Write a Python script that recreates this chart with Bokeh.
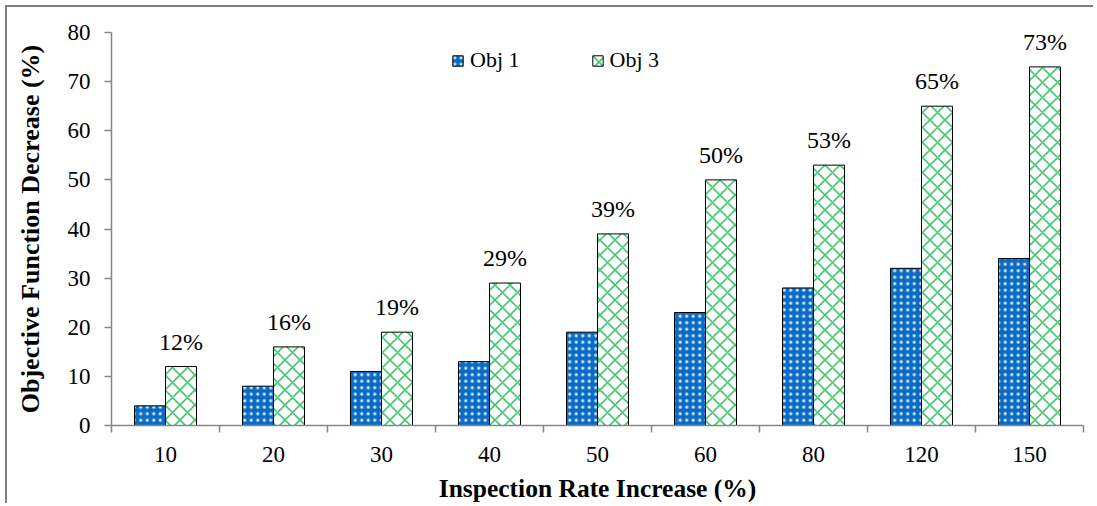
import numpy as np
from bokeh.plotting import figure
from bokeh.models import Range1d, FixedTicker, ColumnDataSource
from bokeh.core.properties import value
from bokeh.embed import file_html
from bokeh.resources import INLINE

categories = ["10", "20", "30", "40", "50", "60", "80", "120", "150"]
obj1 = [4, 8, 11, 13, 19, 23, 28, 32, 34]
obj3 = [12, 16, 19, 29, 39, 50, 53, 65, 73]
pct_labels = [f"{v}%" for v in obj3]
y_ticks = list(range(0, 81, 10))

FONT = "Liberation Serif"
AXIS_COLOR = "#868686"

idx = np.arange(len(categories))
centers = idx + 0.5
bw = 0.287

src = ColumnDataSource(dict(
    x1=centers - bw / 2, x3=centers + bw / 2,
    obj1=obj1, obj3=obj3, lab=pct_labels,
))

p = figure(width=1088, height=498, output_backend="svg", toolbar_location=None,
           x_range=Range1d(0, len(categories)), y_range=Range1d(0, 80),
           min_border_left=104, min_border_right=12, min_border_top=25, min_border_bottom=80,
           styles={"border-top": "2px solid #7f7f7f", "border-left": "2px solid #7f7f7f",
                   "margin-left": "5px", "margin-top": "5px"})
p.outline_line_color = None
p.xgrid.visible = False
p.ygrid.visible = False
p.background_fill_color = "white"
p.border_fill_color = "white"

p.vbar(x="x1", top="obj1", width=bw, source=src, fill_color="#0A6BC4",
       line_color="black", line_width=1,
       hatch_pattern="dot", hatch_color="#D4E8FA", hatch_scale=6.5, hatch_weight=1.6,
       legend_label="Obj 1")
p.vbar(x="x3", top="obj3", width=bw, source=src, fill_color="white",
       line_color="black", line_width=1,
       hatch_pattern="diagonal_cross", hatch_color="#45C873", hatch_scale=15, hatch_weight=1.6,
       legend_label="Obj 3")

p.text(x="x3", y="obj3", text="lab", source=src, text_align="center",
       text_baseline="bottom", y_offset=-12, text_font=value(FONT),
       text_font_size="24px", text_color="black")

# y axis
ya = p.yaxis[0]
ya.ticker = FixedTicker(ticks=y_ticks)
ya.major_tick_in = 0
ya.major_tick_out = 7
ya.minor_tick_out = 0
ya.minor_tick_in = 0
ya.axis_line_color = AXIS_COLOR
ya.axis_line_width = 1.5
ya.major_tick_line_color = AXIS_COLOR
ya.major_tick_line_width = 1.5
ya.major_label_text_font = FONT
ya.major_label_text_font_size = "23px"
ya.major_label_text_color = "black"
ya.major_label_standoff = 14
ya.axis_label = "Objective Function Decrease (%)"
ya.axis_label_text_font = FONT
ya.axis_label_text_font_style = "bold"
ya.axis_label_text_font_size = "26px"
ya.axis_label_text_color = "black"
ya.axis_label_standoff = 20

# x axis
xa = p.xaxis[0]
xa.ticker = FixedTicker(ticks=list(centers), minor_ticks=list(map(float, np.arange(len(categories) + 1))))
xa.major_label_overrides = {float(c): lab for c, lab in zip(centers, categories)}
xa.major_tick_in = 0
xa.major_tick_out = 0
xa.minor_tick_in = 0
xa.minor_tick_out = 7
xa.axis_line_color = AXIS_COLOR
xa.axis_line_width = 1.5
xa.minor_tick_line_color = AXIS_COLOR
xa.minor_tick_line_width = 1.5
xa.major_label_text_font = FONT
xa.major_label_text_font_size = "23px"
xa.major_label_text_color = "black"
xa.major_label_standoff = 14
xa.axis_label = "Inspection Rate Increase (%)"
xa.axis_label_text_font = FONT
xa.axis_label_text_font_style = "bold"
xa.axis_label_text_font_size = "25.5px"
xa.axis_label_text_color = "black"
xa.axis_label_standoff = 9

lg = p.legend[0]
lg.orientation = "horizontal"
lg.location = (340, 352)
lg.padding = 0
lg.margin = 0
lg.border_line_color = None
lg.background_fill_alpha = 0
lg.label_text_font = FONT
lg.label_text_font_size = "22px"
lg.label_text_color = "black"
lg.glyph_width = 13
lg.glyph_height = 13
lg.label_standoff = 6
lg.spacing = 71

open("out.html", "w").write(file_html(p, INLINE))
